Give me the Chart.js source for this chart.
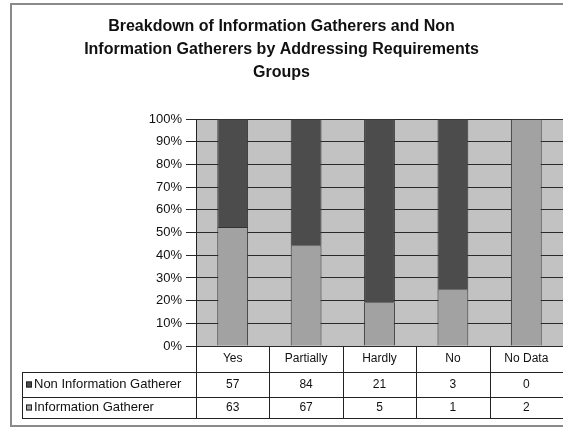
<!DOCTYPE html>
<html>
<head>
<meta charset="utf-8">
<script src="https://cdn.jsdelivr.net/npm/chart.js@4"></script>
<style>
  html, body { margin: 0; padding: 0; background: #fff; }
  #wrap { width: 563px; height: 430px; }
</style>
</head>
<body>
<div id="wrap"><canvas id="chart" width="563" height="430"></canvas></div>
<script>
var categories = ['Yes', 'Partially', 'Hardly', 'No', 'No Data'];
var nonInfoGatherer = [57, 84, 21, 3, 0];
var infoGatherer = [63, 67, 5, 1, 2];
var seriesNames = ['Non Information Gatherer', 'Information Gatherer'];
var yTicks = [0, 10, 20, 30, 40, 50, 60, 70, 80, 90, 100];

// 100% stacked: share of each group
var infoPct = infoGatherer.map(function (v, i) { return v / (v + nonInfoGatherer[i]) * 100; });
var nonInfoPct = nonInfoGatherer.map(function (v, i) { return v / (v + infoGatherer[i]) * 100; });

var FONT = 'Liberation Sans, Arial, sans-serif';
var darkGray = '#4c4c4c';
var lightGray = '#a2a2a2';

var framePlugin = {
    id: 'frame',
    beforeDraw: function (chart) {
        var ctx = chart.ctx, a = chart.chartArea;
        ctx.save();
        // outer chart border
        ctx.strokeStyle = '#8a8a8a';
        ctx.lineWidth = 2;
        ctx.strokeRect(11, 4, 600, 422);
        // plot background
        ctx.fillStyle = '#c2c2c2';
        ctx.fillRect(a.left, a.top, a.right - a.left + 2, a.bottom - a.top);
        ctx.restore();
    },
    afterDraw: function (chart) {
        // data table under the plot
        var ctx = chart.ctx, a = chart.chartArea, x = chart.scales.x;
        var catW = (a.right - a.left) / categories.length;
        var r0 = a.bottom, r1 = a.bottom + 26, r2 = a.bottom + 51, r3 = a.bottom + 72;
        var tableLeft = 22;
        ctx.save();
        ctx.strokeStyle = '#222';
        ctx.lineWidth = 1;
        ctx.beginPath();
        [r1, r2, r3].forEach(function (y) {
            ctx.moveTo(tableLeft, y + 0.5);
            ctx.lineTo(a.right + 5, y + 0.5);
        });
        ctx.moveTo(tableLeft + 0.5, r1);
        ctx.lineTo(tableLeft + 0.5, r3);
        for (var i = 0; i <= categories.length; i++) {
            var bx = Math.round(a.left + i * catW) + 0.5;
            ctx.moveTo(bx, r0);
            ctx.lineTo(bx, r3);
        }
        ctx.stroke();

        ctx.fillStyle = '#111';
        ctx.font = '12px ' + FONT;
        ctx.textAlign = 'center';
        ctx.textBaseline = 'middle';
        var rows = [nonInfoGatherer, infoGatherer];
        categories.forEach(function (c, i) {
            var cx = x.getPixelForValue(i);
            ctx.fillText(c, cx, (r0 + r1) / 2);
            ctx.fillText(String(rows[0][i]), cx, (r1 + r2) / 2);
            ctx.fillText(String(rows[1][i]), cx, (r2 + r3) / 2);
        });

        // legend keys and row names
        var keyColors = [darkGray, lightGray];
        var rowMid = [(r1 + r2) / 2, (r2 + r3) / 2];
        ctx.textAlign = 'left';
        ctx.font = '13px ' + FONT;
        seriesNames.forEach(function (name, i) {
            ctx.fillStyle = keyColors[i];
            ctx.fillRect(26, rowMid[i] - 3, 6, 6);
            ctx.strokeStyle = '#222';
            ctx.strokeRect(26.5, rowMid[i] - 2.5, 5, 5);
            ctx.fillStyle = '#111';
            ctx.fillText(name, 34, rowMid[i]);
        });
        ctx.restore();
    }
};

new Chart(document.getElementById('chart'), {
    type: 'bar',
    data: {
        labels: categories,
        datasets: [{
            label: seriesNames[1],
            data: infoPct,
            backgroundColor: lightGray,
            borderColor: '#333',
            borderWidth: 1,
            categoryPercentage: 1,
            barPercentage: 0.42
        }, {
            label: seriesNames[0],
            data: nonInfoPct,
            backgroundColor: darkGray,
            borderColor: '#333',
            borderWidth: 1,
            categoryPercentage: 1,
            barPercentage: 0.42
        }]
    },
    options: {
        responsive: false,
        animation: false,
        layout: { padding: { left: 0, right: 0, top: 0, bottom: 84 } },
        plugins: {
            legend: { display: false },
            tooltip: { enabled: false },
            title: {
                display: true,
                text: ['Breakdown of Information Gatherers and Non',
                       'Information Gatherers by Addressing Requirements',
                       'Groups'],
                color: '#111',
                font: { family: FONT, size: 16, weight: 'bold', lineHeight: 1.44 },
                padding: { top: 15, bottom: 35 }
            }
        },
        scales: {
            x: {
                display: false,
                stacked: true
            },
            y: {
                stacked: true,
                min: 0,
                max: 100,
                afterFit: function (scale) { scale.width = 196; },
                afterBuildTicks: function (scale) {
                    scale.ticks = yTicks.map(function (v) { return { value: v }; });
                },
                ticks: {
                    color: '#111',
                    padding: 4,
                    font: { family: FONT, size: 13 },
                    callback: function (v) { return v + '%'; }
                },
                grid: {
                    color: '#2a2a2a',
                    lineWidth: 1,
                    tickLength: 10
                },
                border: { color: '#222' }
            }
        }
    },
    plugins: [framePlugin]
});
</script>
</body>
</html>
